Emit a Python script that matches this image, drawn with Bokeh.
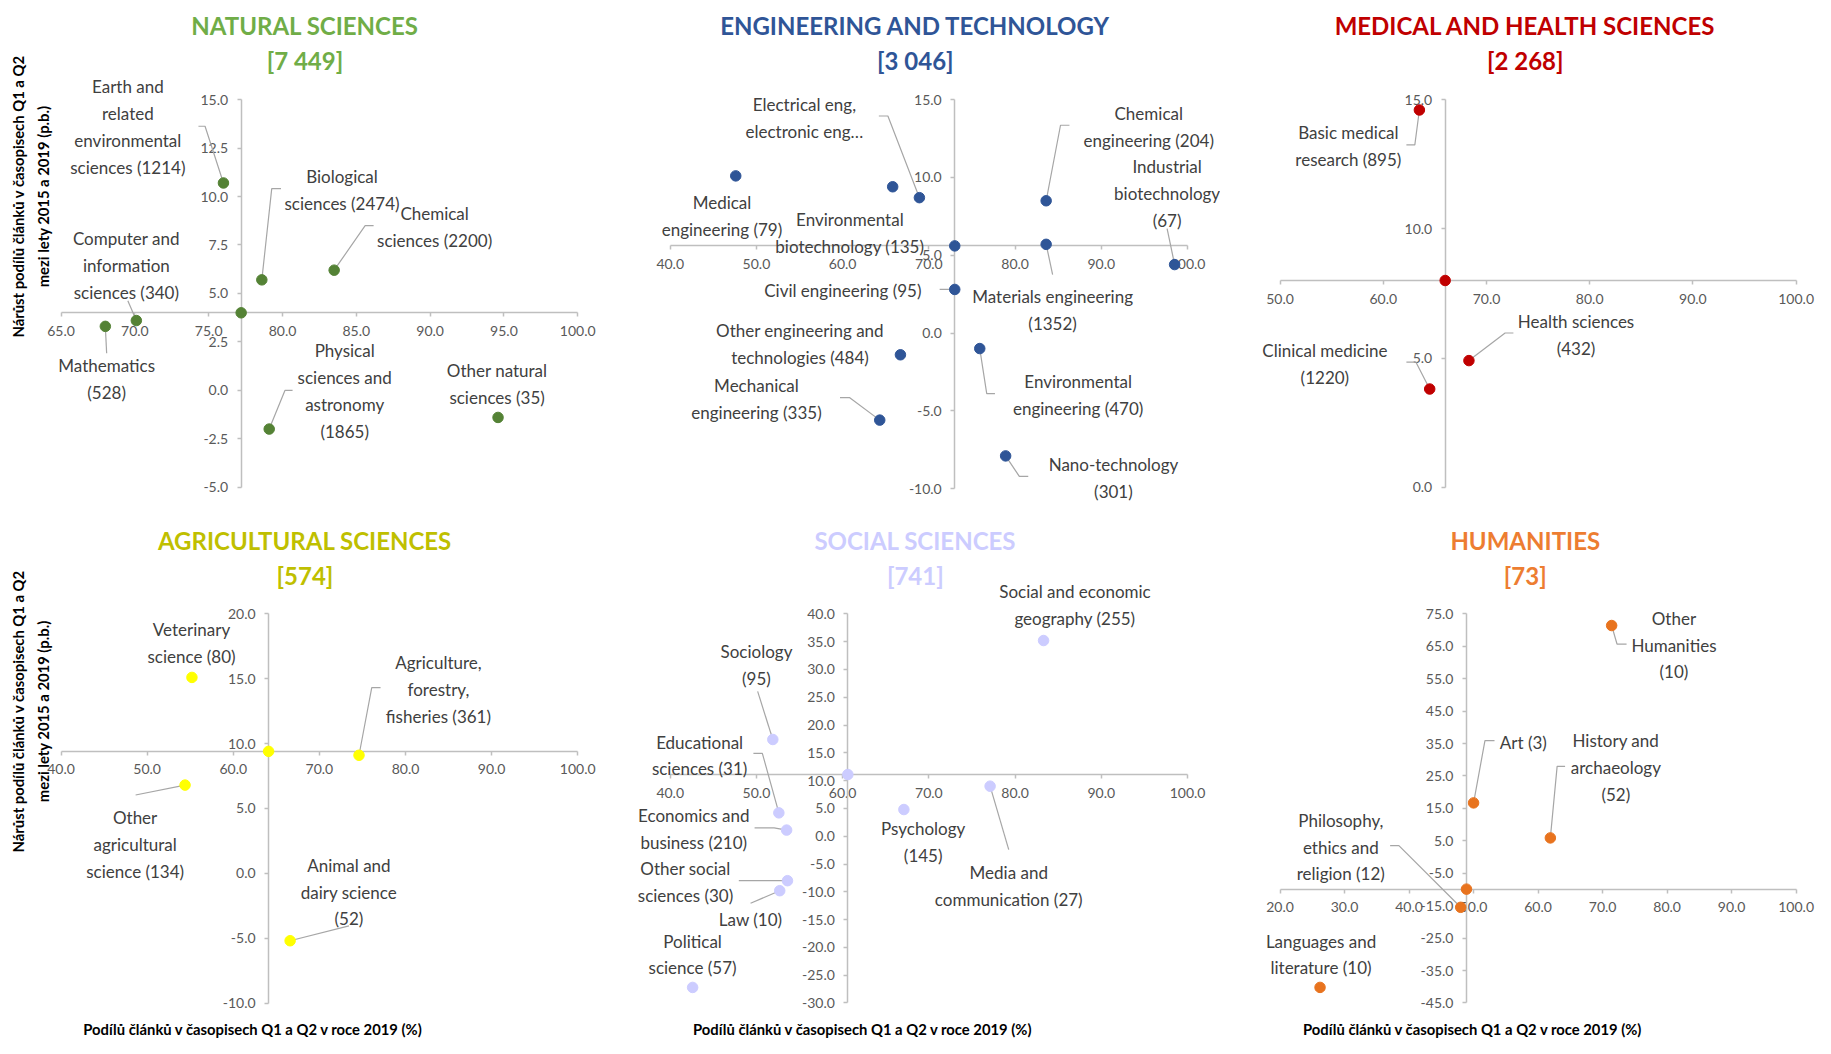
import numpy as np
from bokeh.plotting import figure
from bokeh.models import FixedTicker, NumeralTickFormatter
from bokeh.layouts import gridplot
from bokeh.embed import file_html
from bokeh.resources import INLINE
from bokeh.core.properties import value

# ---------------- DATA ----------------
nat_labels = ["Earth and\nrelated\nenvironmental\nsciences (1214)", "Biological\nsciences (2474)",
              "Chemical\nsciences (2200)", "Computer and\ninformation\nsciences (340)",
              "Mathematics\n(528)", "Physical\nsciences and\nastronomy\n(1865)", "Other natural\nsciences (35)"]
nat_x = [76.0, 78.6, 83.5, 70.1, 68.0, 79.1, 94.6]
nat_y = [10.7, 5.7, 6.2, 3.6, 3.3, -2.0, -1.4]
nat_avg = (77.2, 4.0)

eng_labels = ["Medical\nengineering (79)", "Environmental\nbiotechnology (135)", "Electrical eng,\nelectronic eng…",
              "Chemical\nengineering (204)", "Materials engineering\n(1352)", "Industrial\nbiotechnology\n(67)",
              "Civil engineering (95)", "Other engineering and\ntechnologies (484)", "Environmental\nengineering (470)",
              "Mechanical\nengineering (335)", "Nano-technology\n(301)"]
eng_x = [47.6, 65.8, 68.9, 83.6, 83.6, 98.5, 73.0, 66.7, 75.9, 64.3, 78.9]
eng_y = [10.1, 9.4, 8.7, 8.5, 5.7, 4.4, 2.8, -1.4, -1.0, -5.6, -7.9]
eng_avg = (73.0, 5.6)

med_labels = ["Basic medical\nresearch (895)", "Health sciences\n(432)", "Clinical medicine\n(1220)"]
med_x = [63.5, 68.3, 64.5]
med_y = [14.6, 4.9, 3.8]
med_avg = (66.0, 8.0)

agr_labels = ["Veterinary\nscience (80)", "Agriculture,\nforestry,\nfisheries (361)",
              "Other\nagricultural\nscience (134)", "Animal and\ndairy science\n(52)"]
agr_x = [55.2, 74.6, 54.4, 66.6]
agr_y = [15.1, 9.1, 6.8, -5.2]
agr_avg = (64.1, 9.4)

soc_labels = ["Social and economic\ngeography (255)", "Sociology\n(95)", "Educational\nsciences (31)",
              "Economics and\nbusiness (210)", "Psychology\n(145)", "Media and\ncommunication (27)",
              "Other social\nsciences (30)", "Law (10)", "Political\nscience (57)"]
soc_x = [83.3, 51.9, 52.6, 53.5, 67.1, 77.1, 53.6, 52.7, 42.6]
soc_y = [35.2, 17.4, 4.2, 1.1, 4.8, 9.0, -8.0, -9.8, -27.2]
soc_avg = (60.6, 11.1)

hum_labels = ["Other\nHumanities\n(10)", "Art (3)", "History and\narchaeology\n(52)",
              "Philosophy,\nethics and\nreligion (12)", "Languages and\nliterature (10)"]
hum_x = [71.4, 50.0, 61.9, 48.0, 26.2]
hum_y = [71.4, 16.7, 5.9, -15.5, -40.2]
hum_avg = (48.9, -9.9)

titles = ["NATURAL SCIENCES", "ENGINEERING AND TECHNOLOGY", "MEDICAL AND HEALTH SCIENCES",
          "AGRICULTURAL SCIENCES", "SOCIAL SCIENCES", "HUMANITIES"]
counts = ["[7 449]", "[3 046]", "[2 268]", "[574]", "[741]", "[73]"]

nat_xticks = [65, 70, 75, 80, 85, 90, 95, 100]
nat_yticks = [-5, -2.5, 0, 2.5, 5, 7.5, 10, 12.5, 15]
eng_xticks = [40, 50, 60, 70, 80, 90, 100]
eng_yticks = [-10, -5, 0, 5, 10, 15]
med_xticks = [50, 60, 70, 80, 90, 100]
med_yticks = [0, 5, 10, 15]
agr_xticks = [40, 50, 60, 70, 80, 90, 100]
agr_yticks = [-10, -5, 0, 5, 10, 15, 20]
soc_xticks = [40, 50, 60, 70, 80, 90, 100]
soc_yticks = [-30, -25, -20, -15, -10, -5, 0, 5, 10, 15, 20, 25, 30, 35, 40]
hum_xticks = [20, 30, 40, 50, 60, 70, 80, 90, 100]
hum_yticks = [-45, -35, -25, -15, -5, 5, 15, 25, 35, 45, 55, 65, 75]

y_title = "Nárůst podílů článků v časopisech Q1 a Q2\nmezi lety 2015 a 2019 (p.b.)"
x_title = "Podílů článků v časopisech Q1 a Q2 v roce 2019 (%)"

# ---------------- LAYOUT / STYLE ----------------
REF_COLS = [0, 610, 1230, 1831]
REF_ROWS = [0, 520, 1054]
FIG_W = [605, 615, 595]
FIG_H = [512, 526]
# layout measurements below are in a per-cell measuring space; convert to page pixels
COLFIX = [(0, 1.1672), (610, 1.1862), (1230, 1.1499)]
ROWFIX = [(0, 1.0), (520, 1.0217)]
FONT = "Lato"
LABEL_COL = "#404040"
TICK_COL = "#595959"
AXIS_COL = "#BFBFBF"
LEADER_COL = "#A6A6A6"

panels = [
    dict(col=0, row=0, data=(nat_labels, nat_x, nat_y, nat_avg), ticks=(nat_xticks, nat_yticks),
         map=(52.3, 65, 12.753, 100.7, 15, 19.68), tcol="#70AD47", pcol="#548235",
         lab=[(110, 128.7, [(171, 127.7), (176.7, 127.7)]), (295, 192.2, [(242.3, 191), (234.3, 191)]),
              (375, 230, [(322.3, 228.7), (315, 228.7)]), (108.7, 269.3, [(110, 305)]),
              (91.7, 384.8, [(91.7, 358.3)]), (297.3, 396.3, [(252.3, 396), (245.7, 396)]),
              (429, 389.7, [])], title_x=263),
    dict(col=1, row=0, data=(eng_labels, eng_x, eng_y, eng_avg), ticks=(eng_xticks, eng_yticks),
         map=(665, 40, 7.328, 100.7, 15, 15.8), tcol="#2F5597", pcol="#2F5597",
         lab=[(709, 219.2, []), (817.7, 235.8, []), (779, 119.2, [(842.3, 117.3), (850, 117.3)]),
              (1071.7, 128.3, [(1004.3, 126.7), (996.7, 126.7)]), (990, 314.2, [(990, 278.3)]),
              (1087.3, 196.3, [(1087.3, 231.7)]), (811.7, 294.7, [(894, 293.3)]), (775.3, 348.5, []),
              (1011.7, 400.8, [(941, 399.3), (934, 399.3)]), (738.3, 404.3, [(809.3, 403.3), (817.3, 403.3)]),
              (1041.7, 485.3, [(969.3, 483.3), (961.7, 483.3)])], title_x=873.3),
    dict(col=2, row=0, data=(med_labels, med_x, med_y, med_avg), ticks=(med_xticks, med_yticks),
         map=(1282.3, 50, 9.067, 100.7, 15, 26.24), tcol="#C00000", pcol="#C00000",
         lab=[(1342.3, 147.5, [(1393.3, 146.7), (1400.7, 146.7)]),
              (1542.3, 339.5, [(1487.3, 337.7), (1480, 337.7)]),
              (1321.7, 368.8, [(1393.3, 367.3), (1401.7, 367.3)])], title_x=1497.7),
    dict(col=0, row=1, data=(agr_labels, agr_x, agr_y, agr_avg), ticks=(agr_xticks, agr_yticks),
         map=(52.3, 40, 7.439, 620.7, 20, 12.89), tcol="#BFBF00", pcol="#FFFF00",
         lab=[(165, 649.8, []), (378.3, 696, [(328.3, 694), (320.7, 694)]),
              (116.3, 849.7, [(116.7, 800.7)]), (301, 897.2, [(301, 930.7)])], title_x=263),
    dict(col=1, row=1, data=(soc_labels, soc_x, soc_y, soc_avg), ticks=(soc_xticks, soc_yticks),
         map=(665, 40, 7.328, 620.7, 40, 5.524), tcol="#CCCCFF", pcol="#CCCCFF",
         lab=[(1009, 611.7, []), (738.3, 671.7, [(739.3, 697.7)]),
              (690, 761.5, [(735.7, 759.3), (743.3, 759.3)]), (685, 834.7, [(736.7, 833.3), (753.3, 833.3)]),
              (880, 847.7, []), (952.7, 891.5, [(952.7, 855)]), (678, 887.5, [(723.3, 885.7)]),
              (733.3, 924, [(733.3, 908.3)]), (684, 959.2, [])], title_x=873.3),
    dict(col=2, row=1, data=(hum_labels, hum_x, hum_y, hum_avg), ticks=(hum_xticks, hum_yticks),
         map=(1282.3, 20, 5.667, 620.7, 75, 3.222), tcol="#ED7D31", pcol="#E8731E",
         lab=[(1628.3, 651.7, [(1586.7, 650.7), (1578.3, 650.7)]),
              (1496, 749, [(1470.7, 746.7), (1462.3, 746.7)]),
              (1577.3, 773.7, [(1532.7, 772.3), (1525.7, 772.3)]),
              (1335.7, 852.5, [(1379, 851), (1386.7, 851)]), (1318.3, 959.2, [])], title_x=1497.7),
]

XTITLE_X = [218.3, 828.8, 1451.7]
XTITLE_Y = 1033.3
YTITLE_X = 26.2
YTITLE_Y = [199, 717.5]

figs = []
for i, cfg in enumerate(panels):
    c, r = cfg["col"], cfg["row"]
    cox, ck = COLFIX[c]
    roy, rk = ROWFIX[r]
    fx = lambda px: cox + (px - cox) * ck
    fy = lambda py: roy + (py - roy) * rk
    px0, x0, sx, py0, y0, sy = cfg["map"]
    px0, sx, py0, sy = fx(px0), sx * ck, fy(py0), sy * rk
    dx = lambda px: x0 + (px - px0) / sx          # page px -> data x
    dy = lambda py: y0 - (py - py0) / sy          # page px -> data y
    mx = lambda px: dx(fx(px))                    # measured px -> data
    my = lambda py: dy(fy(py))
    labels, xs, ys, avg = cfg["data"]
    xt, yt = cfg["ticks"]

    p = figure(width=FIG_W[c], height=FIG_H[r], output_backend="svg", toolbar_location=None,
               x_range=(dx(REF_COLS[c]), dx(REF_COLS[c + 1])),
               y_range=(dy(REF_ROWS[r + 1]), dy(REF_ROWS[r])),
               min_border=0)
    p.min_border_left = p.min_border_right = p.min_border_top = p.min_border_bottom = 0
    p.outline_line_color = None
    p.grid.visible = False
    p.background_fill_color = "white"

    for ax, ticks, loc in ((p.xaxis, xt, avg[1]), (p.yaxis, yt, avg[0])):
        ax.fixed_location = loc
        ax.bounds = (min(ticks), max(ticks))
        ax.ticker = FixedTicker(ticks=ticks)
        ax.formatter = NumeralTickFormatter(format="0.0")
        ax.axis_line_color = AXIS_COL
        ax.axis_line_width = 1.5
        ax.major_tick_line_color = AXIS_COL
        ax.major_tick_line_width = 1.5
        ax.major_tick_out = 4
        ax.major_tick_in = 0
        ax.minor_tick_line_color = None
        ax.major_label_text_font = FONT
        ax.major_label_text_font_size = "14px"
        ax.major_label_text_color = TICK_COL
        ax.level = "underlay"
    p.xaxis.major_label_standoff = 9
    p.yaxis.major_label_standoff = 9

    # titles
    ty = (25.3, 61.0) if r == 0 else (548.3, 582.7)
    p.text(x=[mx(cfg["title_x"])] * 2, y=[my(ty[0]), my(ty[1])], text=[titles[i], counts[i]],
           text_font=value(FONT), text_font_style="bold", text_font_size="24px",
           text_color=cfg["tcol"], text_align="center", text_baseline="middle")

    # leaders
    lx, ly = [], []
    for k, (cx, cy, path) in enumerate(cfg["lab"]):
        if path:
            lx.append([mx(a) for a, b in path] + [xs[k]])
            ly.append([my(b) for a, b in path] + [ys[k]])
    if lx:
        p.multi_line(lx, ly, line_color=LEADER_COL, line_width=1.2)

    # labels
    p.text(x=[mx(cx) for cx, cy, _ in cfg["lab"]], y=[my(cy) for cx, cy, _ in cfg["lab"]],
           text=labels, text_font=value(FONT), text_font_size="17px", text_color=LABEL_COL,
           text_align="center", text_baseline="middle", text_line_height=1.28)

    # points
    p.scatter(x=xs + [avg[0]], y=ys + [avg[1]], size=10.5, fill_color=cfg["pcol"], line_color=cfg["pcol"])

    # axis titles
    if c == 0:
        p.text(x=[mx(YTITLE_X)], y=[my(YTITLE_Y[r])], text=[y_title], angle=np.pi / 2,
               text_font=value(FONT), text_font_style="bold", text_font_size="14.8px",
               text_color="#000000", text_align="center", text_baseline="middle", text_line_height=1.39)
    if r == 1:
        p.text(x=[mx(XTITLE_X[c])], y=[my(XTITLE_Y)], text=[x_title],
               text_font=value(FONT), text_font_style="bold", text_font_size="14.8px",
               text_color="#000000", text_align="center", text_baseline="middle")
    figs.append(p)

grid = gridplot([figs[:3], figs[3:]], toolbar_location=None)
open("out.html", "w").write(file_html(grid, INLINE, title="Q1 a Q2"))
